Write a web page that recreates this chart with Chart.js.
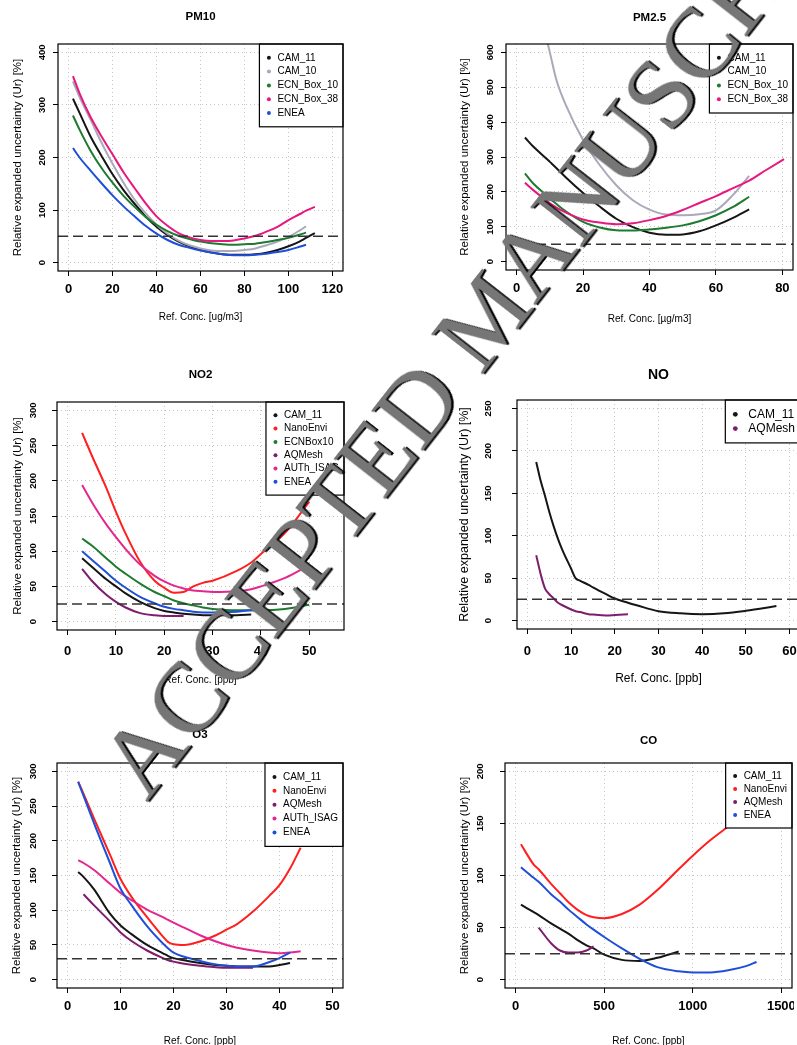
<!DOCTYPE html>
<html>
<head>
<meta charset="utf-8">
<title>Relative expanded uncertainty vs reference concentration</title>
<script src="https://cdn.jsdelivr.net/npm/chart.js@4.4.1/dist/chart.umd.min.js"></script>
<style>
  html, body { margin: 0; padding: 0; background: #fff; }
  #stage { position: relative; width: 797px; height: 1045px; overflow: hidden; background: #fff; }
  #stage canvas { position: absolute; }
  #wm {
    position: absolute; left: 121px; top: 733px;
    font: 100px/1 'Liberation Serif', 'Times New Roman', serif;
    color: #767676; white-space: nowrap;
    transform-origin: 0 50%; transform: rotate(-52deg);
    text-shadow: 1.5px 1.5px 0 #000; pointer-events: none; z-index: 5;
  }
</style>
</head>
<body>
<div id="stage">
  <div id="wm">ACCEPTED MANUSCRIPT</div>
</div>
<script>
// ---- data ----
const PM10_X = [2, 5, 10, 15, 20, 25, 30, 35, 40, 45, 50, 55, 60, 65, 70, 75, 80, 85, 90, 95, 100, 105, 108, 112];
const PM10_CAM_11 = [312, 285, 240, 203, 168, 138, 112, 88, 68, 52, 40, 31, 24, 19, 16, 15, 15, 16, 19, 24, 31, 40, 47, 56];
const PM10_CAM_10 = [345, 315, 272, 228, 188, 152, 120, 94, 72, 55, 42, 33, 27, 23, 22, 22, 24, 27, 33, 40, 49, 61, 69, null];
const PM10_ECN_BOX_10 = [280, 253, 213, 180, 152, 127, 106, 87, 72, 60, 51, 45, 40, 37, 35, 34, 35, 36, 39, 43, 47, 53, 57, null];
const PM10_ECN_BOX_38 = [355, 322, 277, 240, 206, 172, 142, 113, 88, 70, 56, 48, 43, 41, 41, 42, 46, 51, 59, 68, 81, 92, 99, 106];
const PM10_ENEA = [218, 200, 175, 151, 128, 107, 88, 70, 55, 43, 34, 28, 23, 19, 16, 14, 14, 15, 17, 20, 24, 30, 34, null];

const PM25_X = [2.5, 5, 9, 10, 12, 15, 20, 25, 30, 35, 40, 45, 50, 55, 60, 65, 70, 75, 80.5];
const PM25_CAM_11 = [356, 330, 295, 286, 268, 240, 197, 158, 123, 99, 83, 77, 78, 87, 104, 125, 150, null, null];
const PM25_CAM_10 = [null, null, 640, 600, 520, 445, 349, 277, 219, 176, 149, 135, 133, 136, 147, 190, 246, null, null];
const PM25_ECN_BOX_10 = [253, 224, 190, 181, 165, 143, 114, 98, 90, 89, 92, 97, 104, 116, 133, 156, 186, null, null];
const PM25_ECN_BOX_38 = [226, 205, 175, 167, 155, 140, 121, 112, 107, 110, 119, 131, 148, 168, 188, 210, 232, 262, 294];

const NO2_X = [3, 5, 8, 10, 12, 15, 18, 20, 22, 24, 26, 28, 30, 35, 38, 40, 45, 50];
const NO2_CAM_11 = [90, 78, 60, 50, 40, 28, 19, 15, 13, 11, 10, 9, 9, 9, 10, null, null, null];
const NO2_NANOENVI = [268, 236, 190, 156, 125, 85, 58, 48, 41, 42, 50, 55, 58, 72, 84, 96, 126, 170];
const NO2_ECNBOX10 = [118, 108, 90, 78, 68, 54, 42, 36, 30, 26, 23, 20, 18, 16, 16, 16, 18, 24];
const NO2_AQMESH = [75, 58, 38, 28, 20, 12, 9, 8, 8, 8, null, null, null, null, null, null, null, null];
const NO2_AUTH_ISAG = [194, 170, 138, 120, 103, 81, 65, 57, 51, 47, 44, 43, 42, 43, 46, 50, 62, 80];
const NO2_ENEA = [100, 88, 70, 58, 48, 35, 26, 21, 18, 16, 14, 13, 13, 14, 16, 16, null, null];

const NO_X = [2, 3, 4, 5, 6, 7, 8, 10, 11, 12, 14, 15, 18, 20, 23, 25, 30, 35, 40, 45, 50, 57];
const NO_CAM_11 = [187, 165, 147, 128, 111, 96, 83, 61, 50, 47, 42, 39, 31, 26, 21, 18, 11, 8.5, 7.5, 8.5, 11.5, 17];
const NO_AQMESH = [77, 55, 38, 31, 26, 21, 18, 13, 11, 10, 7.5, 7, 6, 6.5, 7.5, null, null, null, null, null, null, null];

const O3_X = [2, 3, 5, 8, 10, 12, 15, 18, 19, 20, 22, 25, 28, 30, 32, 35, 38, 40, 42, 44];
const O3_CAM_11 = [155, 148, 130, 95, 78, 66, 50, 38, 34, 31, 28, 24, 21, 20, 19, 19, 19, 21, 24, null];
const O3_NANOENVI = [285, 268, 232, 180, 145, 120, 90, 62, 54, 51, 50, 55, 64, 72, 80, 98, 120, 136, 160, 190];
const O3_AQMESH = [null, 123, 107, 84, 68, 56, 42, 31, 28, 26, 23, 20, 18, 17, 17, 17, null, null, null, null];
const O3_AUTH_ISAG = [172, 168, 158, 138, 125, 115, 101, 90, 86, 82, 75, 64, 55, 50, 46, 42, 39, 38, 39, 41];
const O3_ENEA = [285, 265, 225, 168, 131, 108, 77, 52, 45, 39, 33, 27, 22, 20, 19, 19, 25, 31, 39, null];

const CO_X = [30, 100, 130, 200, 250, 300, 350, 400, 440, 500, 600, 700, 800, 920, 1000, 1100, 1200, 1300, 1360];
const CO_CAM_11 = [72, 65, 62, 54, 49, 44, 38, 33, 30, 24, 19, 18, 21, 27, null, null, null, null, null];
const CO_NANOENVI = [130, 111, 106, 92, 83, 74, 67, 62, 60, 59, 63, 72, 86, 106, 119, 134, 147, 160, 168];
const CO_AQMESH = [null, null, 50, 35, 28, 26, 26, 28, 32, null, null, null, null, null, null, null, null, null, null];
const CO_ENEA = [108, 98, 94, 82, 75, 67, 60, 53, 48, 41, 30, 20, 12, 8, 7, 7, 9, 13, 17];

// quality objective lines and axis ticks
const LIMITS = { pm10: 50, pm25: 50, no2: 25, no: 25, o3: 30, co: 25 };
const PM10_TICKS_X = [0, 20, 40, 60, 80, 100, 120], PM10_TICKS_Y = [0, 100, 200, 300, 400];
const PM25_TICKS_X = [0, 20, 40, 60, 80], PM25_TICKS_Y = [0, 100, 200, 300, 400, 500, 600];
const NO2_TICKS_X = [0, 10, 20, 30, 40, 50], NO2_TICKS_Y = [0, 50, 100, 150, 200, 250, 300];
const NO_TICKS_X = [0, 10, 20, 30, 40, 50, 60], NO_TICKS_Y = [0, 50, 100, 150, 200, 250];
const O3_TICKS_X = [0, 10, 20, 30, 40, 50], O3_TICKS_Y = [0, 50, 100, 150, 200, 250, 300];
const CO_TICKS_X = [0, 500, 1000, 1500], CO_TICKS_Y = [0, 50, 100, 150, 200];

const C = {
  black: '#151515', gray: '#a9a9ba', green: '#1d7a2e', pink: '#e8177f',
  blue: '#1f4fd8', red: '#ff1f1f', purple: '#7d1d6b', magenta: '#e3278f',
  grid: '#c4c4c4', limit: '#333333',
};
const FONT = "'Liberation Sans', Arial, Helvetica, sans-serif";
const YTICK = 9.5;

const ext = (lim) => { const d = (lim[1] - lim[0]) * 0.04; return [lim[0] - d, lim[1] + d]; };
const pts = (xs, ys) => xs.map((x, i) => ({ x, y: ys[i] })).filter((p) => p.y != null);

// plot frame like base R box()
const frame = {
  id: 'frame',
  afterDraw(chart) {
    const { ctx, chartArea: a } = chart;
    ctx.save();
    ctx.strokeStyle = '#000';
    ctx.lineWidth = 1.2;
    ctx.strokeRect(a.left, a.top, a.right - a.left, a.bottom - a.top);
    ctx.restore();
  },
};

// R style legend box in the top right corner of the plot
const insetLegend = {
  id: 'insetLegend',
  afterDatasetsDraw(chart, args, o) {
    const { ctx, chartArea: a } = chart;
    const items = chart.data.datasets.filter((d) => !d.isLimit);
    ctx.save();
    ctx.font = `${o.size}px ${FONT}`;
    const tw = Math.max(...items.map((d) => ctx.measureText(d.label).width));
    const w = tw + o.textX + 5;
    const h = (items.length + 1) * o.row;
    const x0 = a.right - w, y0 = a.top;
    ctx.fillStyle = '#fff';
    ctx.fillRect(x0, y0, w, h);
    ctx.strokeStyle = '#000';
    ctx.lineWidth = 1.2;
    ctx.strokeRect(x0, y0, w, h);
    ctx.textBaseline = 'middle';
    items.forEach((d, i) => {
      const y = y0 + o.row * (i + 1);
      ctx.fillStyle = d.borderColor;
      ctx.beginPath();
      ctx.arc(x0 + o.dotX, y, o.size * 0.2, 0, Math.PI * 2);
      ctx.fill();
      ctx.fillStyle = '#000';
      ctx.fillText(d.label, x0 + o.textX, y);
    });
    ctx.restore();
  },
};

function panel(p) {
  const [pl, pt, pr, pb] = p.plot;
  const cl = pl - 60, ct = pt - 40;
  const cw = pr - cl + 2, ch = pb + 60 - ct;
  const canvas = document.createElement('canvas');
  canvas.width = cw;
  canvas.height = ch;
  canvas.style.left = cl + 'px';
  canvas.style.top = ct + 'px';
  document.getElementById('stage').appendChild(canvas);

  const s = p.scale || 1;
  const titleSize = p.titleSize || 11.5, xtSize = 10 * s, ytSize = p.ytSize || 11.5;
  const xr = ext(p.xlim), yr = ext(p.ylim);

  const datasets = p.series.map((sr, i) => ({
    label: sr.label,
    data: pts(p.xs, sr.y),
    borderColor: sr.color,
    backgroundColor: sr.color,
    borderWidth: 2,
    pointRadius: 0,
    cubicInterpolationMode: 'monotone',
    order: p.series.length - i + 1,
  }));
  datasets.push({
    label: 'limit', isLimit: true,
    data: [{ x: xr[0], y: p.limit }, { x: xr[1], y: p.limit }],
    borderColor: C.limit, borderWidth: 1.5, borderDash: [10, 5], pointRadius: 0, order: 0,
  });

  const lhT = titleSize * 1.2;
  const tPad = p.titleY - ct - lhT / 2;

  new Chart(canvas.getContext('2d'), {
    type: 'line',
    data: { datasets },
    plugins: [frame, insetLegend],
    options: {
      responsive: false,
      animation: false,
      devicePixelRatio: 1,
      layout: { padding: { left: 0, right: 2, top: 0, bottom: 0 } },
      plugins: {
        legend: { display: false },
        tooltip: { enabled: false },
        title: {
          display: true, text: p.title, fullSize: false, color: '#000',
          font: { family: FONT, size: titleSize, weight: 'bold' },
          padding: { top: tPad, bottom: 40 - tPad - lhT },
        },
        insetLegend: { size: 10 * s, row: p.row, dotX: p.dotX || 9.5, textX: p.textX || 18 },
      },
      scales: {
        x: {
          type: 'linear', min: xr[0], max: xr[1],
          afterBuildTicks: (sc) => { sc.ticks = p.ticksX.map((v) => ({ value: v })); },
          afterFit: (sc) => { sc.height = 60; sc.paddingLeft = 0; sc.paddingRight = 0; },
          ticks: {
            autoSkip: false, maxRotation: 0, minRotation: 0, color: '#000',
            padding: p.xTickD - 5 - 7.8,
            font: { family: FONT, size: 13, weight: 'bold' },
            callback: (v) => String(v),
          },
          grid: { color: C.grid, lineWidth: 1, tickLength: 5, tickColor: '#000', tickWidth: 1, tickBorderDash: [] },
          border: { display: false, dash: [1, 3] },
          title: {
            display: true, text: p.xTitle, color: '#000',
            font: { family: FONT, size: xtSize },
            padding: { top: 0, bottom: pb + 60 - p.xTitleY - xtSize * 0.6 },
          },
        },
        y: {
          type: 'linear', min: yr[0], max: yr[1],
          afterBuildTicks: (sc) => { sc.ticks = p.ticksY.map((v) => ({ value: v })); },
          afterFit: (sc) => { sc.width = 60; sc.paddingTop = 0; sc.paddingBottom = 0; },
          ticks: {
            autoSkip: false, minRotation: 90, maxRotation: 90, crossAlign: 'center', color: '#000',
            padding: p.yTickD - 5 - YTICK * 0.834,
            font: { family: FONT, size: YTICK, weight: 'bold' },
            callback: (v) => String(v),
          },
          grid: { color: C.grid, lineWidth: 1, tickLength: 5, tickColor: '#000', tickWidth: 1, tickBorderDash: [] },
          border: { display: false, dash: [1, 3] },
          title: {
            display: true, text: 'Relative expanded uncertainty (Ur) [%]', color: '#000',
            font: { family: FONT, size: ytSize },
            padding: { top: p.yTitleX - cl - ytSize * 0.6, bottom: 0 },
          },
        },
      },
    },
  });
}

panel({
  title: 'PM10', plot: [58, 44, 343, 271], xlim: [0, 120], ylim: [0, 400],
  ticksX: PM10_TICKS_X, ticksY: PM10_TICKS_Y, limit: LIMITS.pm10,
  titleY: 17, xTitle: 'Ref. Conc. [ug/m3]', xTitleY: 317, yTitleX: 17.5, xTickD: 18, yTickD: 15.3, row: 13.8,
  xs: PM10_X,
  series: [
    { label: 'CAM_11', y: PM10_CAM_11, color: C.black },
    { label: 'CAM_10', y: PM10_CAM_10, color: C.gray },
    { label: 'ECN_Box_10', y: PM10_ECN_BOX_10, color: C.green },
    { label: 'ECN_Box_38', y: PM10_ECN_BOX_38, color: C.pink },
    { label: 'ENEA', y: PM10_ENEA, color: C.blue },
  ],
});

panel({
  title: 'PM2.5', plot: [506, 44, 793, 270], xlim: [0, 80], ylim: [0, 600],
  ticksX: PM25_TICKS_X, ticksY: PM25_TICKS_Y, limit: LIMITS.pm25,
  titleY: 18, xTitle: 'Ref. Conc. [µg/m3]', xTitleY: 319, yTitleX: 465, xTickD: 18.3, yTickD: 16, row: 13.8,
  xs: PM25_X,
  series: [
    { label: 'CAM_11', y: PM25_CAM_11, color: C.black },
    { label: 'CAM_10', y: PM25_CAM_10, color: C.gray },
    { label: 'ECN_Box_10', y: PM25_ECN_BOX_10, color: C.green },
    { label: 'ECN_Box_38', y: PM25_ECN_BOX_38, color: C.pink },
  ],
});

panel({
  title: 'NO2', plot: [57, 402, 344, 630], xlim: [0, 55], ylim: [0, 300],
  ticksX: NO2_TICKS_X, ticksY: NO2_TICKS_Y, limit: LIMITS.no2,
  titleY: 375, xTitle: 'Ref. Conc. [ppb]', xTitleY: 680, yTitleX: 18.3, xTickD: 21.7, yTickD: 24, row: 13.3,
  xs: NO2_X,
  series: [
    { label: 'CAM_11', y: NO2_CAM_11, color: C.black },
    { label: 'NanoEnvi', y: NO2_NANOENVI, color: C.red },
    { label: 'ECNBox10', y: NO2_ECNBOX10, color: C.green },
    { label: 'AQMesh', y: NO2_AQMESH, color: C.purple },
    { label: 'AUTh_ISAG', y: NO2_AUTH_ISAG, color: C.magenta },
    { label: 'ENEA', y: NO2_ENEA, color: C.blue },
  ],
});

panel({
  title: 'NO', plot: [517, 400, 800, 629], xlim: [0, 60], ylim: [0, 250],
  ticksX: NO_TICKS_X, ticksY: NO_TICKS_Y, limit: LIMITS.no,
  scale: 1.2, titleSize: 14, ytSize: 12.5, dotX: 10, textX: 23,
  titleY: 375, xTitle: 'Ref. Conc. [ppb]', xTitleY: 679, yTitleX: 465, xTickD: 22, yTickD: 29, row: 14.3,
  xs: NO_X,
  series: [
    { label: 'CAM_11', y: NO_CAM_11, color: C.black },
    { label: 'AQMesh', y: NO_AQMESH, color: C.purple },
  ],
});

panel({
  title: 'O3', plot: [57, 763, 343, 988], xlim: [0, 50], ylim: [0, 300],
  ticksX: O3_TICKS_X, ticksY: O3_TICKS_Y, limit: LIMITS.o3,
  titleY: 735, xTitle: 'Ref. Conc. [ppb]', xTitleY: 1041, yTitleX: 16.7, xTickD: 18.7, yTickD: 24, row: 13.9,
  xs: O3_X,
  series: [
    { label: 'CAM_11', y: O3_CAM_11, color: C.black },
    { label: 'NanoEnvi', y: O3_NANOENVI, color: C.red },
    { label: 'AQMesh', y: O3_AQMESH, color: C.purple },
    { label: 'AUTh_ISAG', y: O3_AUTH_ISAG, color: C.magenta },
    { label: 'ENEA', y: O3_ENEA, color: C.blue },
  ],
});

panel({
  title: 'CO', plot: [505, 763, 792, 988], xlim: [0, 1500], ylim: [0, 200],
  ticksX: CO_TICKS_X, ticksY: CO_TICKS_Y, limit: LIMITS.co,
  titleY: 741, xTitle: 'Ref. Conc. [ppb]', xTitleY: 1041, yTitleX: 465, xTickD: 18.7, yTickD: 25, row: 13,
  xs: CO_X,
  series: [
    { label: 'CAM_11', y: CO_CAM_11, color: C.black },
    { label: 'NanoEnvi', y: CO_NANOENVI, color: C.red },
    { label: 'AQMesh', y: CO_AQMESH, color: C.purple },
    { label: 'ENEA', y: CO_ENEA, color: C.blue },
  ],
});
</script>
</body>
</html>
